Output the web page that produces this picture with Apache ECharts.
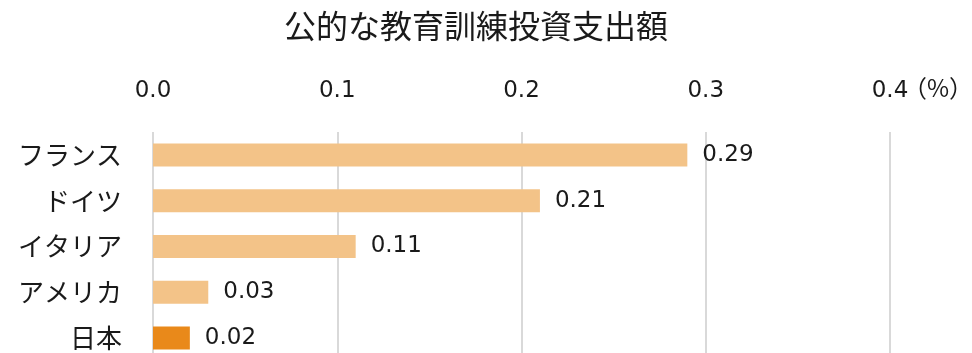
<!DOCTYPE html>
<html>
<head>
<meta charset="utf-8">
<script src="https://cdn.jsdelivr.net/npm/echarts@6/dist/echarts.min.js"></script>
<style>
  html, body { margin: 0; padding: 0; background: #fff; }
  #chart { width: 972px; height: 353px; }
</style>
</head>
<body>
<div id="chart"></div>
<script>
// 公的な教育訓練投資支出額（対GDP比, %）
var countries = ['フランス', 'ドイツ', 'イタリア', 'アメリカ', '日本'];
var spending = [0.29, 0.21, 0.11, 0.03, 0.02];
var highlightCountry = '日本';

var baseColor = '#F3C388';
var highlightColor = '#E9891A';
var fontLatin = '"DejaVu Sans", "Noto Sans CJK JP", sans-serif';
var fontJa = '"Noto Sans CJK JP", sans-serif';

var chart = echarts.init(document.getElementById('chart'));
chart.setOption({
  backgroundColor: '#ffffff',
  animation: false,
  title: {
    text: '公的な教育訓練投資支出額',
    left: 471,
    textAlign: 'center',
    top: 5,
    textStyle: { fontFamily: fontJa, fontSize: 32, fontWeight: 'normal', color: '#1a1a1a' }
  },
  // the plot runs past the bottom edge, so the grid is sized by height
  grid: {
    left: 153, width: 737, top: 132, height: 229,
    containLabel: false,
    outerBoundsMode: 'none'
  },
  xAxis: {
    type: 'value',
    position: 'top',
    min: 0,
    max: 0.4,
    interval: 0.1,
    axisLine: { show: false },
    axisTick: { show: false },
    splitLine: { show: true, lineStyle: { color: '#d9d9d9', width: 2 } },
    axisLabel: {
      margin: 29,
      fontFamily: fontLatin,
      fontSize: 23,
      color: '#1a1a1a',
      formatter: function (v) { return v.toFixed(1); }
    }
  },
  yAxis: {
    type: 'category',
    data: countries,
    inverse: true,
    axisLine: { show: false },
    axisTick: { show: false },
    axisLabel: { margin: 31, fontFamily: fontJa, fontSize: 26, color: '#1a1a1a' }
  },
  graphic: [{
    type: 'text',
    left: 903,
    top: 76,
    style: { text: '（%）', font: '24px "Noto Sans CJK JP", sans-serif', fill: '#1a1a1a' }
  }],
  series: [{
    type: 'bar',
    barWidth: 23,
    data: spending.map(function (v, i) {
      return {
        value: v,
        itemStyle: { color: countries[i] === highlightCountry ? highlightColor : baseColor }
      };
    }),
    label: {
      show: true,
      position: 'right',
      distance: 15,
      fontFamily: fontLatin,
      fontSize: 23,
      color: '#1a1a1a',
      formatter: function (p) { return p.value.toFixed(2); }
    }
  }]
});
</script>
</body>
</html>
